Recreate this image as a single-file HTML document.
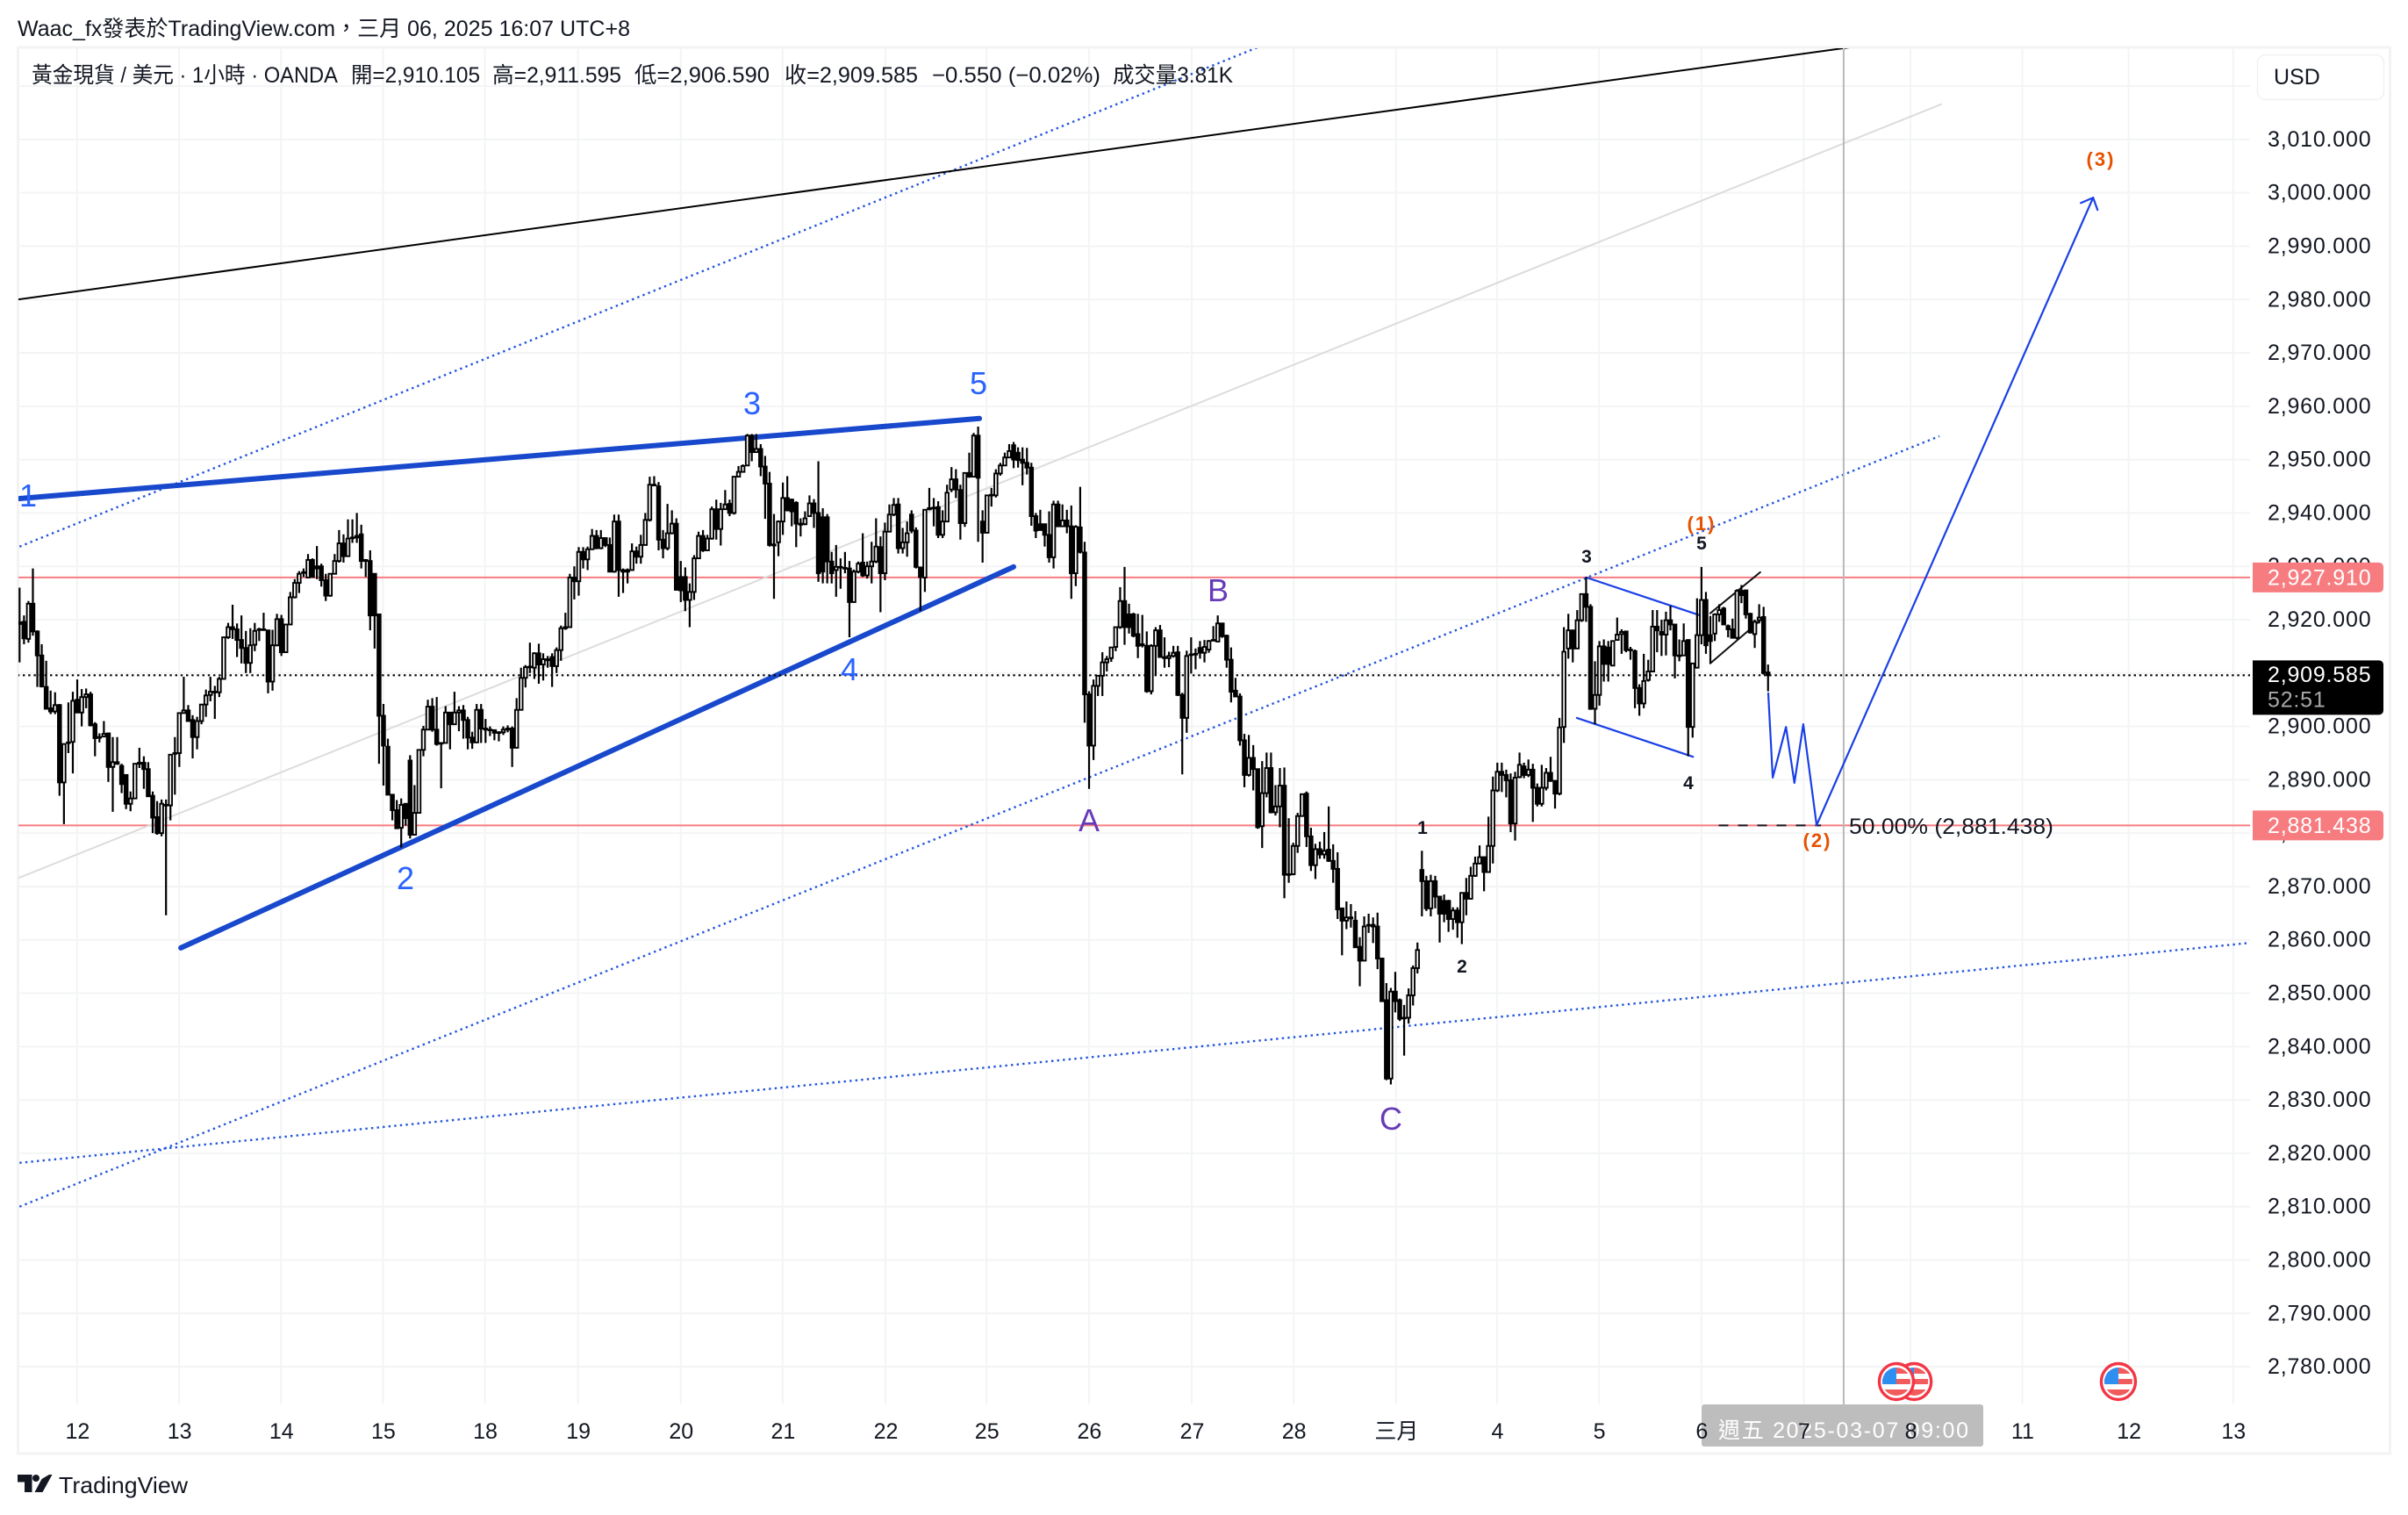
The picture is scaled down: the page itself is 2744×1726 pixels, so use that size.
<!DOCTYPE html>
<html lang="zh-Hant">
<head>
<meta charset="utf-8">
<title>黃金現貨 / 美元 1小時</title>
<style>
html,body{margin:0;padding:0;background:#fff;width:2744px;height:1726px;overflow:hidden}
svg{display:block}
text{font-family:"Liberation Sans","Noto Sans CJK TC",sans-serif}
.ax{font-size:25px;fill:#131722;letter-spacing:.8px}
.wv{font-size:36px;text-anchor:middle}
.sm{font-size:21px;font-weight:bold;text-anchor:middle}
.or{font-size:22px;font-weight:bold;text-anchor:middle;letter-spacing:2px}
</style>
</head>
<body>
<svg id="chart" width="2744" height="1726" viewBox="0 0 2744 1726" xmlns="http://www.w3.org/2000/svg">
<defs>
<clipPath id="plotClip"><rect x="21" y="55" width="2543" height="1545"/></clipPath>
<clipPath id="flagClip"><circle cx="0" cy="0" r="16"/></clipPath>
<symbol id="usFlag" overflow="visible" viewBox="-22 -23 44 46" width="44" height="46">
<ellipse cx="0" cy="0" rx="19.5" ry="20.5" fill="#fff" stroke="#f23645" stroke-width="3.4"/>
<g clip-path="url(#flagClip)">
<rect x="-16" y="-16" width="32" height="32" fill="#fff"/>
<rect x="0" y="-16" width="16" height="7" fill="#f25b5b"/>
<rect x="-16" y="-3" width="32" height="6" fill="#f25b5b"/>
<rect x="-16" y="9" width="32" height="8" fill="#f25b5b"/>
<rect x="-16" y="-16" width="16" height="19" fill="#2f8ff0"/>
</g>
</symbol>
</defs>

<text x="20" y="41" font-size="25" fill="#131722" textLength="698" lengthAdjust="spacingAndGlyphs">Waac_fx發表於TradingView.com，三月 06, 2025 16:07 UTC+8</text>

<rect x="20.5" y="54" width="2703" height="1602" fill="none" stroke="#f3f3f4" stroke-width="3"/>

<g id="grid"></g>
<g id="lines" clip-path="url(#plotClip)"></g>
<g id="candles" clip-path="url(#plotClip)"></g>

<g font-size="25" fill="#131722">
<text x="36" y="94" textLength="349" lengthAdjust="spacingAndGlyphs">黃金現貨 / 美元 · 1小時 · OANDA</text>
<text x="400" y="94" textLength="147" lengthAdjust="spacingAndGlyphs">開=2,910.105</text>
<text x="561" y="94" textLength="147" lengthAdjust="spacingAndGlyphs">高=2,911.595</text>
<text x="723" y="94" textLength="154" lengthAdjust="spacingAndGlyphs">低=2,906.590</text>
<text x="894" y="94" textLength="152" lengthAdjust="spacingAndGlyphs">收=2,909.585</text>
<text x="1062" y="94" textLength="192" lengthAdjust="spacingAndGlyphs">−0.550 (−0.02%)</text>
<text x="1268" y="94" textLength="137" lengthAdjust="spacingAndGlyphs">成交量3.81K</text>
</g>

<g>
<text class="wv" fill="#2962ff" x="32" y="577">1</text>
<text class="wv" fill="#2962ff" x="462" y="1013">2</text>
<text class="wv" fill="#2962ff" x="857" y="472">3</text>
<text class="wv" fill="#2962ff" x="968" y="775">4</text>
<text class="wv" fill="#2962ff" x="1115" y="449">5</text>
<text class="wv" fill="#673ab7" x="1241" y="947">A</text>
<text class="wv" fill="#673ab7" x="1388" y="685">B</text>
<text class="wv" fill="#673ab7" x="1585" y="1287">C</text>
<text class="sm" fill="#131722" x="1621" y="950">1</text>
<text class="sm" fill="#131722" x="1666" y="1108">2</text>
<text class="sm" fill="#131722" x="1808" y="641">3</text>
<text class="sm" fill="#131722" x="1924" y="899">4</text>
<text class="sm" fill="#131722" x="1939" y="626">5</text>
<text class="or" fill="#e65100" x="1939" y="604">(1)</text>
<text class="or" fill="#e65100" x="2071" y="965">(2)</text>
<text class="or" fill="#e65100" x="2394" y="189">(3)</text>
<text font-size="25" fill="#131722" x="2107" y="950" textLength="233" lengthAdjust="spacingAndGlyphs">50.00% (2,881.438)</text>
</g>

<rect x="1939" y="1600" width="321" height="48" rx="3" fill="#bdbdbd"/>
<text x="1958" y="1638" font-size="25" fill="#ffffff" textLength="285" lengthAdjust="spacing">週五 2025-03-07  09:00</text>

<g id="timeAxis"></g>
<g id="events"></g>
<g id="priceAxis"></g>

<rect x="2572.5" y="62.5" width="144" height="51" rx="9" fill="#fff" stroke="#f0f1f3" stroke-width="1.5"/>
<text x="2591" y="96" font-size="25" fill="#131722">USD</text>

<g id="priceTags"></g>

<g>
<path d="M20 1680h16.500v20h-8.500v-11.500h-8z M56 1680h3.500l-11 20h-9l8-15z" fill="#131722"/>
<circle cx="41" cy="1684" r="4" fill="#131722"/>
<text x="67" y="1701" font-size="26" fill="#131722" textLength="147" lengthAdjust="spacingAndGlyphs">TradingView</text>
</g>
</svg>

<script>
// ---- Bar data (price, USD), one entry per hourly bar ----
const opens = [
2919.5,2919.6,2916.4,2923,2917.8,2913.3,2907.4,2903.4,2902.8,2904,
2889.5,2896.9,2897.1,2905,2902.6,2905.5,2906,2900.4,2897.9,2898.1,
2898.7,2892.4,2893.3,2892.6,2890.9,2885.5,2886.5,2893,2893.2,2892,
2887,2883,2880,2885.2,2885.2,2894.9,2895,2902.5,2903,2901.2,
2898,2901,2904.1,2905.9,2906.5,2906.4,2908.9,2916.7,2918.6,2918.2,
2916.2,2914.7,2911.9,2915.3,2918.2,2918.2,2918,2908.4,2915.2,2920.1,
2913.9,2919.1,2924.2,2926.9,2928.8,2927.9,2931.2,2930,2930,2927.4,
2924.5,2928.6,2931,2934.3,2931.9,2935.3,2935.4,2936,2931,2931,
2928.6,2921,2902,2896.2,2887.2,2884.3,2881,2885.5,2893.6,2879.7,
2883.8,2895.6,2899.4,2903.7,2899.4,2896.8,2896.9,2902.6,2900.4,2902.6,
2903,2901.2,2897.9,2897,2903.1,2899.6,2899.4,2899.3,2898.8,2898.9,
2899.4,2899.6,2896,2903.1,2909.1,2911.1,2911,2913.7,2911.6,2912.6,
2913,2911.3,2914.3,2918.4,2918.6,2927.9,2927.2,2932.7,2931.3,2933.2,
2935.7,2933.4,2935.3,2934,2929,2938.4,2929.3,2929,2929.3,2932.8,
2931.8,2934,2938.7,2945.3,2945,2935,2933.4,2936.2,2938,2928,
2928,2923.7,2925.2,2931.5,2935.7,2933,2935.2,2940.7,2937,2940.7,
2941.7,2940,2946.8,2947.7,2948.9,2954.5,2951.4,2952,2948.7,2945.5,
2934.1,2934.5,2938.4,2942.8,2942.5,2941.9,2938,2937.9,2939.4,2941.8,
2940,2939.2,2939.2,2930.9,2929.3,2929.9,2929.7,2929.6,2923.3,2929,
2930.7,2928.3,2930,2930.9,2933.6,2928.7,2936.5,2939.7,2941.6,2933.4,
2934.5,2939.7,2936.7,2929.8,2927.9,2940.7,2940.9,2941.1,2935.9,2938.4,
2944.4,2946.3,2944.3,2938.1,2947.5,2946.8,2954.5,2938.4,2936.3,2943.3,
2943.3,2947.4,2948.9,2950.4,2952.7,2951.3,2950,2949.4,2948.5,2939.4,
2937.9,2937.9,2935.9,2931.7,2941.6,2937.5,2938.6,2937.5,2928.7,2937.3,
2932.6,2906,2896.4,2907.6,2909.5,2912,2912.8,2914.9,2918.6,2923.5,
2921,2921,2917.3,2915.4,2915.1,2906.6,2915.1,2918,2913,2912.8,
2913.2,2913.9,2905.9,2901.6,2913.4,2913.5,2914.7,2913.8,2914.4,2916.2,
2915.9,2919.3,2917,2912.5,2906.7,2905.6,2897.4,2890.9,2894.1,2892,
2881.3,2887.5,2892.2,2883.9,2885,2888.9,2872.2,2872.3,2877.6,2883.2,
2887.4,2879.4,2874,2877,2876,2876.9,2874.8,2873.3,2865.9,2863.6,
2864.2,2863.6,2858.7,2856.1,2862.7,2862.8,2862.5,2856.5,2848.7,2834,
2850.3,2848.7,2845.3,2845.4,2849.6,2854.7,2873.1,2871,2865.9,2871,
2868.1,2867.3,2867.3,2863.9,2865.5,2863.3,2868.8,2867.7,2872,2874.3,
2875.5,2872.7,2877.6,2888,2891.5,2890.9,2889.9,2881.8,2890.5,2892.5,
2890.9,2891.9,2888.5,2885.5,2888.5,2891.3,2889.8,2887.4,2899.9,2914.6,
2918,2914.6,2919.9,2924.8,2922.4,2903.3,2905.9,2915,2914.8,2911.4,
2916.2,2917.3,2917.8,2914.4,2914.1,2907.2,2904.3,2908.7,2910.3,2918.7,
2917.7,2917.2,2919.9,2919.1,2913.3,2913.3,2916.2,2899.9,2911,2917.1,
2923.7,2917.1,2917.4,2921,2922.1,2918.8,2918.2,2916.6,2925.4,2925.5,
2921.1,2917.3,2919.9,2920.5,2910.105
];
const highs = [
2926,2920.8,2923.5,2929.6,2918,2915.4,2912.3,2906.7,2906.4,2904.2,
2896.8,2904.5,2906.5,2908.8,2907,2907.1,2906.5,2900.8,2898.7,2901,
2898.8,2898,2898,2893,2891,2887.8,2893.1,2896,2894.4,2893.3,
2887.8,2886,2886.3,2886.3,2894.8,2898,2902.6,2909.3,2904,2902.1,
2901.8,2904.2,2906.9,2909.3,2907.6,2909.3,2916.8,2919.4,2922.8,2919.3,
2920.8,2917.9,2918.4,2919.4,2918.5,2921.3,2918,2918.1,2921.1,2920.9,
2919.2,2925.2,2927.6,2929.1,2929.6,2932.3,2931.5,2933.8,2930.5,2928.6,
2928.7,2932.3,2936.8,2936,2938.8,2938.8,2940,2937.8,2931.2,2933,
2928.7,2921.1,2904.2,2897.7,2887.3,2886.2,2886.5,2885.5,2894.6,2889,
2895.7,2900.1,2905,2905.3,2905.5,2897,2903.8,2902.7,2906.5,2903.8,
2904,2901.8,2899,2904.2,2904.2,2901.4,2900,2899.4,2899.1,2900,
2900.2,2900,2905.3,2911,2911.5,2915.7,2913.9,2915.5,2913.7,2913.2,
2913.7,2914.8,2918.9,2921.3,2928.6,2930,2933.6,2933.6,2933.7,2937,
2936.8,2936.8,2935.4,2935.4,2939.7,2939.7,2929.6,2929.6,2934.3,2933.7,
2935.9,2940,2946.8,2946.9,2945.8,2936.8,2941.7,2940.5,2939,2931,
2929.8,2926.8,2932.1,2936.5,2936.8,2935.9,2941.2,2942.5,2941.9,2944.3,
2942.5,2946.9,2948.8,2949.1,2954.8,2954.8,2954.8,2952.9,2950.7,2947.7,
2939.8,2938.6,2945.7,2946.9,2942.7,2942.2,2939,2940.3,2943.3,2942.6,
2949.7,2940.9,2939.8,2932.7,2934,2931.5,2932.7,2931,2929.4,2930.9,
2936.2,2930.9,2934.6,2939,2935.6,2938.2,2941.6,2942.8,2942.8,2937.2,
2938.4,2940.5,2937.3,2929.9,2940.7,2944.7,2942.8,2942.2,2940.5,2945.3,
2948.6,2948.2,2945.3,2947.6,2951.3,2955,2956.2,2940.5,2943.4,2944.7,
2948.2,2949.4,2951.3,2952.9,2953.3,2952.3,2952.3,2952.2,2949.4,2940,
2940.6,2938,2940.3,2942.3,2942.3,2941.6,2940.6,2941.4,2937.7,2944.9,
2934.6,2906.6,2908.8,2909.5,2913.9,2913.2,2914.9,2918.7,2926.1,2929.9,
2923,2921.3,2921.1,2920.9,2917.8,2915.4,2918.6,2919,2916.7,2914,
2915.1,2915.1,2906.3,2914.2,2916.7,2914.6,2916,2916.2,2916.2,2918.8,
2920.8,2919.4,2917.2,2914.8,2909.1,2906.2,2898.6,2898.4,2896.5,2892.1,
2893.5,2895.1,2895.1,2889,2892.2,2892.3,2882.8,2878.2,2883.8,2887.4,
2887.8,2881,2878,2878.4,2880.2,2885,2877.9,2876.4,2866,2867.2,
2866.7,2865.4,2860.5,2864.4,2864.9,2864.2,2865.1,2856.6,2851.9,2851,
2854,2849,2847.8,2850.9,2855.2,2859.5,2876.7,2872,2872.2,2872,
2868.2,2868.5,2867.5,2866.1,2866.1,2868.9,2871.6,2873.7,2875.6,2877.7,
2875.6,2883.1,2890.6,2893.2,2893.2,2891.9,2891.2,2891.5,2895.1,2893.2,
2893.8,2893,2889.3,2892.8,2892.2,2894.3,2889.9,2901.6,2918.6,2921.1,
2918.1,2921.8,2924.9,2928,2922.9,2912.2,2916,2916.3,2916,2916.1,
2920.4,2918.2,2917.9,2914.9,2914.4,2907.9,2913.6,2912.5,2921.8,2921.8,
2920,2921.5,2922.6,2919.2,2916.3,2919.3,2916.3,2911.9,2924,2929.9,
2925.2,2920.7,2921.2,2922.9,2922.4,2919.1,2920.2,2925.7,2926.5,2925.6,
2921.3,2920,2922.9,2922.4,2911.595
];
const lows = [
2912,2915.4,2915.7,2917,2907.4,2907.3,2903.3,2902.3,2902.3,2887,
2881.7,2895,2891.2,2902.5,2900,2903.4,2900,2894.4,2897,2898,
2889.6,2884,2892.8,2887.5,2884.5,2884.1,2886.4,2892.2,2888.3,2886.8,
2880,2879.7,2879.4,2864.6,2882.4,2887.2,2892.4,2902.5,2901,2894,
2895.7,2900.4,2901.8,2904.7,2901.4,2905.5,2908.9,2916.4,2916.4,2913,
2911.8,2910,2910,2914.1,2916,2917.9,2906.2,2906.7,2915,2913.2,
2913.8,2919,2924,2925,2928,2927.9,2927.9,2927.6,2926.2,2923.5,
2924.3,2928.5,2930.7,2930.7,2931.8,2934.4,2934.4,2929.6,2928,2918,
2914.6,2893,2888.9,2887.2,2882.4,2880.9,2877.3,2881.4,2879,2879.6,
2883.7,2894.4,2899.3,2899,2896.4,2888.4,2896.8,2895.7,2900.3,2899.1,
2897.7,2895.7,2895.8,2896.9,2896.9,2896.9,2898.2,2897.4,2897.2,2898.4,
2898.9,2892.4,2895.9,2903,2907.3,2910,2908.9,2908,2908.6,2911,
2907.4,2910,2912.3,2918.1,2918.5,2923.8,2924.5,2929.6,2929.3,2933.1,
2933.2,2933.2,2933.6,2929,2928.8,2924.3,2925,2926.8,2929.2,2930.5,
2930.5,2933.9,2938.4,2945,2933,2931.5,2933,2936,2925.5,2923.3,
2921.6,2918.6,2923.7,2931.4,2932.7,2932.9,2935,2935,2933.9,2940.6,
2939.4,2939.7,2946.7,2947.6,2948.8,2949.7,2951.3,2946.9,2938.9,2933.7,
2923.9,2931.9,2935.9,2940.3,2937.5,2933.6,2935.6,2937.7,2939.3,2937.2,
2927.1,2926.8,2926.8,2926.8,2924.3,2925.8,2928.7,2916.7,2923.2,2928.7,
2928,2927.7,2926.8,2930.6,2921.4,2927.4,2936.4,2939.4,2932.4,2932.4,
2931.8,2936.2,2929.6,2921.6,2925.2,2940.5,2937.5,2935.3,2935.3,2938.3,
2943.9,2942.8,2935,2937.4,2946.6,2946.7,2934.6,2930.7,2936.2,2941.2,
2942.9,2947,2948.8,2950.3,2948.4,2948.5,2945.2,2947.2,2937.6,2935.3,
2936.7,2933.7,2930.7,2929.6,2937.4,2937.4,2936.2,2923.9,2926.3,2932.4,
2900.7,2888.3,2893.7,2905.7,2905.7,2910.3,2912.1,2914.1,2918.3,2915.3,
2917.4,2916.7,2912.8,2914.8,2906.3,2906,2909.5,2912.9,2911,2911.1,
2912.9,2905.7,2891,2898.8,2909.9,2910.7,2912.7,2912,2913.8,2916,
2915.8,2916.6,2911,2904.5,2905.5,2896.4,2888.6,2890.6,2888,2880.8,
2877.2,2886.7,2883.7,2883.3,2881.1,2867.8,2870.7,2872.1,2876.3,2883.1,
2877.4,2872.9,2871.4,2875.2,2875.2,2874.6,2870.7,2863.9,2857.1,2862,
2862.3,2858.5,2851.3,2856,2861.3,2859.4,2854.5,2848.4,2833.7,2832.9,
2846.4,2844.8,2838.3,2844.3,2847.7,2853.7,2864.4,2865.4,2864.4,2865.9,
2859.5,2863.3,2861.5,2861.9,2860.4,2859.2,2864.6,2867.6,2871.8,2874.2,
2869.1,2872.6,2874.3,2887.7,2887.7,2886.7,2880.2,2878.6,2890.3,2890.3,
2890.5,2882.1,2885,2885,2888,2889.6,2884.6,2887.1,2896.9,2912.7,
2912,2914.5,2919.6,2919.6,2903.1,2900.4,2903.9,2908.4,2908.4,2911.3,
2916.1,2913.6,2913.9,2912.5,2903.4,2902,2903.4,2908.4,2910.2,2913.9,
2913.2,2913.3,2918,2909,2912.2,2913.2,2894.4,2897.9,2910.9,2915.4,
2913.6,2911.8,2916,2919.6,2919.1,2916.7,2916.6,2916.3,2923.1,2920.2,
2917.4,2914.7,2919.3,2909.7,2906.59
];
const closes = [
2919.2,2916.5,2923,2917.8,2913.3,2907.5,2903.3,2902.8,2904,2889.5,
2896.7,2897,2904.8,2902.6,2905.5,2906,2900.2,2897.8,2898,2898.6,
2892.4,2893.3,2893,2889.2,2885.5,2886.5,2893,2893.2,2892,2886.9,
2882.9,2880,2885.5,2885.3,2894.7,2895,2902.5,2903,2901,2898,
2901,2904.1,2905.8,2906.5,2906.4,2908.9,2916.7,2918.6,2918.2,2916.2,
2914.7,2911.9,2915.2,2917.9,2918.2,2918.2,2908.4,2915.2,2920.1,2913.9,
2919.1,2924.2,2926.9,2928.6,2928.9,2931.2,2928,2929.6,2927.4,2924.5,
2928.6,2931,2934.3,2931.9,2935.2,2935.4,2935.7,2931,2931.2,2920.8,
2920.8,2902,2896.4,2887.2,2884.3,2880.9,2885.3,2882.8,2879.7,2883.8,
2895.6,2899.4,2903.7,2899.4,2896.7,2896.9,2902.6,2900.4,2902.6,2903,
2901.2,2897.9,2897,2903.1,2899.6,2899.4,2899.3,2898.8,2898.9,2899.4,
2899.6,2896,2903.1,2909.1,2911.1,2911.2,2913.7,2911.6,2912.6,2912.4,
2911.3,2914.3,2918.4,2918.6,2927.9,2927.2,2932.7,2931.3,2933.2,2935.7,
2933.4,2935.3,2934,2929,2938.4,2929.3,2929,2929.3,2932.8,2931.8,
2934,2938.7,2945.3,2945.2,2935,2933.4,2936.2,2938,2925.6,2925.5,
2923.7,2925.2,2931.5,2935.7,2933,2935.2,2940.7,2937,2940.7,2941.6,
2940,2946.8,2947.7,2948.8,2954.5,2951.4,2952,2948.7,2945.5,2934,
2933.9,2938.4,2942.8,2940.5,2940.3,2938,2937.8,2939,2941.8,2940,
2928.7,2929,2930.9,2928.7,2929.9,2929.9,2929.7,2923.3,2929,2930.5,
2928.3,2930,2930.9,2933.7,2928.7,2936.5,2939.7,2941.5,2933.4,2934.5,
2936.2,2936.7,2929.9,2928,2940.6,2940.9,2941,2935.9,2938.4,2943.8,
2946.3,2944.4,2938.1,2947.5,2946.8,2954.5,2946.6,2936.3,2943.3,2943.4,
2947.4,2948.9,2950.4,2951.6,2950,2949.9,2949.4,2948.5,2939.4,2936.7,
2936.8,2935.9,2931.7,2941.6,2937.5,2938.6,2937.5,2928.7,2937.4,2932.7,
2906,2896.4,2907.6,2909.5,2912,2912.6,2914.8,2918.6,2923.5,2918.6,
2918.6,2917,2915.1,2915.2,2906.6,2915.1,2918,2913,2912.8,2913.2,
2913.8,2905.9,2901.6,2913.2,2913.5,2913.6,2913.8,2914.9,2916,2916.2,
2919.3,2916.9,2912.5,2906.5,2905.6,2897.4,2890.9,2894.1,2892,2881.1,
2887.5,2892.2,2883.9,2885,2888.9,2872.2,2872.3,2877.6,2883.2,2887.3,
2879.4,2874,2877,2876,2876.7,2874.8,2873.3,2865.7,2863.6,2864.2,
2864,2858.6,2856.1,2862.5,2862.8,2862.5,2856.5,2848.5,2834,2850.3,
2848.5,2845.2,2845.4,2849.6,2854.7,2858.1,2871,2865.9,2871,2868.1,
2864.9,2864.9,2863.9,2865.5,2863.3,2868.8,2867.7,2872,2874.3,2875.5,
2872.7,2877.6,2888,2891.5,2890.9,2889.9,2881.8,2890.4,2892.8,2890.9,
2891.9,2888.5,2885.5,2888.5,2891.3,2889.8,2887.4,2899.8,2914,2918,
2914.6,2919.9,2924.8,2922.4,2903.3,2905.9,2915,2911.7,2911.7,2916,
2917.2,2917.7,2914.3,2914.3,2907.2,2904.3,2908.5,2910.3,2918.7,2918,
2917.2,2919.9,2919.1,2913.3,2913.2,2916,2899.9,2911.8,2917.1,2923.7,
2915.2,2916,2921,2921.8,2919.1,2918.2,2916.6,2925.4,2924.6,2921,
2917.6,2919.6,2920.4,2910,2909.585
];

// ---- Axis data ----
const gridPrices = [2780,2790,2800,2810,2820,2830,2840,2850,2860,2870,2880,2890,2900,2910,2920,2930,2940,2950,2960,2970,2980,2990,3000,3010,3020];
const priceTicks = [2780,2790,2800,2810,2820,2830,2840,2850,2860,2870,2880,2890,2900,2910,2920,2930,2940,2950,2960,2970,2980,2990,3000,3010];
const timeLabels = ['12','13','14','15','18','19','20','21','22','25','26','27','28','三月','4','5','6','7','8','11','12','13'];
const timeTickBars = [13,36,59,82,105,126,149.2,172.2,195.4,218.2,241.3,264.5,287.5,310.6,333.4,356.4,379.5,402.6,426.7,451.9,475.9,499.5];

// ---- Level and drawing data (bar index / price) ----
const fibHighPrice = 2927.91;
const fibMidPrice = 2881.438;
const crosshairBar = 411.6;
const eventBars = [427.5,423.5,473.6];
const blackTrendBars = [-0.5,414.2];
const blackTrendPrices = [2980,3027.4];
const upperChannelBars = [0,280.7];
const upperChannelPrices = [2933.7,3027.7];
const grayChannelBars = [-0.5,433.6];
const grayChannelPrices = [2871.5,3016.6];
const midChannelBars = [0,433.2];
const midChannelPrices = [2810,2954.4];
const lowerChannelBars = [0,502.9];
const lowerChannelPrices = [2818.2,2859.4];
const wedgeTopBars = [0,216.6];
const wedgeTopPrices = [2942.7,2957.7];
const wedgeBottomBars = [36.4,224.3];
const wedgeBottomPrices = [2858.5,2929.9];
const flagTopBars = [353.6,379.2];
const flagTopPrices = [2927.9,2920.8];
const flagBottomBars = [351.4,377.6];
const flagBottomPrices = [2901.6,2894.3];
const microTopBars = [381.5,392.8];
const microTopPrices = [2921.2,2928.9];
const microBottomBars = [381.5,392.6];
const microBottomPrices = [2911.8,2919.7];
const forecastBars = [394.6,395.6,398.6,400.5,402.5,405.5,467.9];
const forecastPrices = [2906.2,2890.4,2899.9,2889.4,2900.4,2881.5,2999.1];
const arrowBars = [465.1,467.9,468.9];
const arrowPrices = [2998.1,2999.1,2996.8];
const fibDashBars = [383.4,406.5];

// ---- Axis functions ----
const NS = 'http://www.w3.org/2000/svg';
function xOf(bar){ return 22.3 + 5.05 * bar; }
function candleX(index){ return 22.3 + 5.057 * index; }
function yOf(price){ return 706 + (2920 - price) * 6.079; }
function fmt(v){ return v.toLocaleString('en-US',{minimumFractionDigits:3,maximumFractionDigits:3}); }
function make(tag, parent){
  const el = document.createElementNS(NS, tag);
  parent.appendChild(el);
  return el;
}
function polyPoints(bars, prices){
  return bars.map(function(b,i){ return xOf(b).toFixed(1)+','+yOf(prices[i]).toFixed(1); }).join(' ');
}
function drawPoly(parent, bars, prices, color, width, dash){
  const el = make('polyline', parent);
  el.setAttribute('points', polyPoints(bars, prices));
  el.setAttribute('fill', 'none');
  el.setAttribute('stroke', color);
  el.setAttribute('stroke-width', width);
  el.setAttribute('stroke-linecap', 'round');
  el.setAttribute('stroke-linejoin', 'round');
  if (dash) { el.setAttribute('stroke-dasharray', dash); el.setAttribute('stroke-linecap', 'butt'); }
  return el;
}

// ---- Grid ----
const gridG = document.getElementById('grid');
gridPrices.forEach(function(p){
  const el = make('line', gridG);
  
  
  el.setAttribute('x1', 21); el.setAttribute('x2', 2564);
  el.setAttribute('y1', yOf(p)); el.setAttribute('y2', yOf(p));
  el.setAttribute('stroke', '#f3f4f5'); el.setAttribute('stroke-width', 2);
});
timeTickBars.forEach(function(b){
  const el = make('line', gridG);
  
  
  el.setAttribute('x1', xOf(b)); el.setAttribute('x2', xOf(b));
  el.setAttribute('y1', 55); el.setAttribute('y2', 1600);
  el.setAttribute('stroke', '#f3f4f5'); el.setAttribute('stroke-width', 2);
});

// ---- Drawings ----
const lineG = document.getElementById('lines');
const plotLeftBar = -0.5;
const plotRightBar = 503.3;
let ln;
ln = drawPoly(lineG, [plotLeftBar,plotRightBar], [fibHighPrice,fibHighPrice], '#f77c80', 2);


ln = drawPoly(lineG, [plotLeftBar,plotRightBar], [fibMidPrice,fibMidPrice], '#f77c80', 2);


ln = drawPoly(lineG, grayChannelBars, grayChannelPrices, '#dcdcdc', 2);


ln = drawPoly(lineG, upperChannelBars, upperChannelPrices, '#2255dd', 2.4, '2.4 4.2');


ln = drawPoly(lineG, midChannelBars, midChannelPrices, '#2255dd', 2.4, '2.4 4.2');


ln = drawPoly(lineG, lowerChannelBars, lowerChannelPrices, '#2255dd', 2.4, '2.4 4.2');


ln = drawPoly(lineG, blackTrendBars, blackTrendPrices, '#000000', 2);


ln = drawPoly(lineG, wedgeTopBars, wedgeTopPrices, '#1848cc', 6);


ln = drawPoly(lineG, wedgeBottomBars, wedgeBottomPrices, '#1848cc', 6);


ln = drawPoly(lineG, flagTopBars, flagTopPrices, '#1a3fe6', 2.2);


ln = drawPoly(lineG, flagBottomBars, flagBottomPrices, '#1a3fe6', 2.2);


ln = drawPoly(lineG, microTopBars, microTopPrices, '#111111', 2);


ln = drawPoly(lineG, microBottomBars, microBottomPrices, '#111111', 2);


ln = drawPoly(lineG, fibDashBars, [fibMidPrice,fibMidPrice], '#131722', 2, '11 11');


ln = drawPoly(lineG, [crosshairBar,crosshairBar], [3050,2760], '#b9b9b9', 2);


ln = drawPoly(lineG, forecastBars, forecastPrices, '#1a3fe6', 2.2);


ln = drawPoly(lineG, arrowBars, arrowPrices, '#1a3fe6', 2.2);


ln = drawPoly(lineG, [plotLeftBar,plotRightBar], [closes[closes.length-1],closes[closes.length-1]], '#000000', 2.2, '2.4 3.8');



// ---- Candles ----
const candleG = document.getElementById('candles');
closes.forEach(function(c, i){
  const cx = candleX(i);
  const wick = make('line', candleG);
  
  
  wick.setAttribute('x1', cx); wick.setAttribute('x2', cx);
  wick.setAttribute('y1', yOf(highs[i])); wick.setAttribute('y2', yOf(lows[i]));
  wick.setAttribute('stroke', '#000'); wick.setAttribute('stroke-width', 2.2);
  const top = yOf(Math.max(opens[i], c));
  const bot = yOf(Math.min(opens[i], c));
  const body = make('rect', candleG);
  
  
  body.setAttribute('x', cx - 1.8);
  body.setAttribute('width', 3.6);
  body.setAttribute('y', top);
  body.setAttribute('height', Math.max(0.8, bot - top));
  body.setAttribute('fill', c >= opens[i] ? '#fff' : '#000');
  body.setAttribute('stroke', '#000');
  body.setAttribute('stroke-width', 1.9);
});

// ---- Time axis ----
const timeG = document.getElementById('timeAxis');
timeLabels.forEach(function(label, i){
  const t = make('text', timeG);
  
  
  t.setAttribute('x', xOf(timeTickBars[i]) + 0.5);
  t.setAttribute('y', 1639);
  t.setAttribute('font-size', 25);
  t.setAttribute('fill', '#131722');
  t.setAttribute('text-anchor', 'middle');
  t.textContent = label;
});

// ---- Economic event flags ----
const eventG = document.getElementById('events');
eventBars.forEach(function(b){
  const u = make('use', eventG);
  
  
  u.setAttribute('href', '#usFlag');
  u.setAttribute('x', xOf(b) - 22);
  u.setAttribute('y', 1551);
  u.setAttribute('width', 44);
  u.setAttribute('height', 46);
});

// ---- Price axis ----
const priceG = document.getElementById('priceAxis');
priceTicks.forEach(function(p){
  const t = make('text', priceG);
  
  
  t.setAttribute('class', 'ax');
  t.setAttribute('x', 2584);
  t.setAttribute('y', yOf(p) + 8);
  t.textContent = fmt(p);
});

// ---- Price tags ----
const tagG = document.getElementById('priceTags');
function tagBox(price, h, fill, name){
  const y = yOf(price) - 17;
  const r = make('path', tagG);
  
  
  r.setAttribute('d', 'M2567 ' + y + 'H2711a5 5 0 0 1 5 5V' + (y + h - 5) + 'a5 5 0 0 1 -5 5H2567Z');
  r.setAttribute('fill', fill);
}
function tagText(price, dy, text, fill, name){
  const t = make('text', tagG);
  
  
  t.setAttribute('class', 'ax');
  t.setAttribute('style', 'fill:' + fill);
  t.setAttribute('x', 2584);
  t.setAttribute('y', yOf(price) + dy);
  t.textContent = text;
}
tagBox(fibHighPrice, 34, '#f77c80', 'fib-100-price-tag');
tagText(fibHighPrice, 8.6, fmt(fibHighPrice), '#ffffff', 'fib-100-price-text');
tagBox(fibMidPrice, 34, '#f77c80', 'fib-50-price-tag');
tagText(fibMidPrice, 8.6, fmt(fibMidPrice), '#ffffff', 'fib-50-price-text');
const lastPrice = closes[closes.length - 1];
tagBox(lastPrice, 62, '#000000', 'last-price-tag');
tagText(lastPrice, 7.5, fmt(lastPrice), '#ffffff', 'last-price-text');
tagText(lastPrice, 36, '52:51', '#a8a8a8', 'bar-countdown-text');
</script>
</body>
</html>
